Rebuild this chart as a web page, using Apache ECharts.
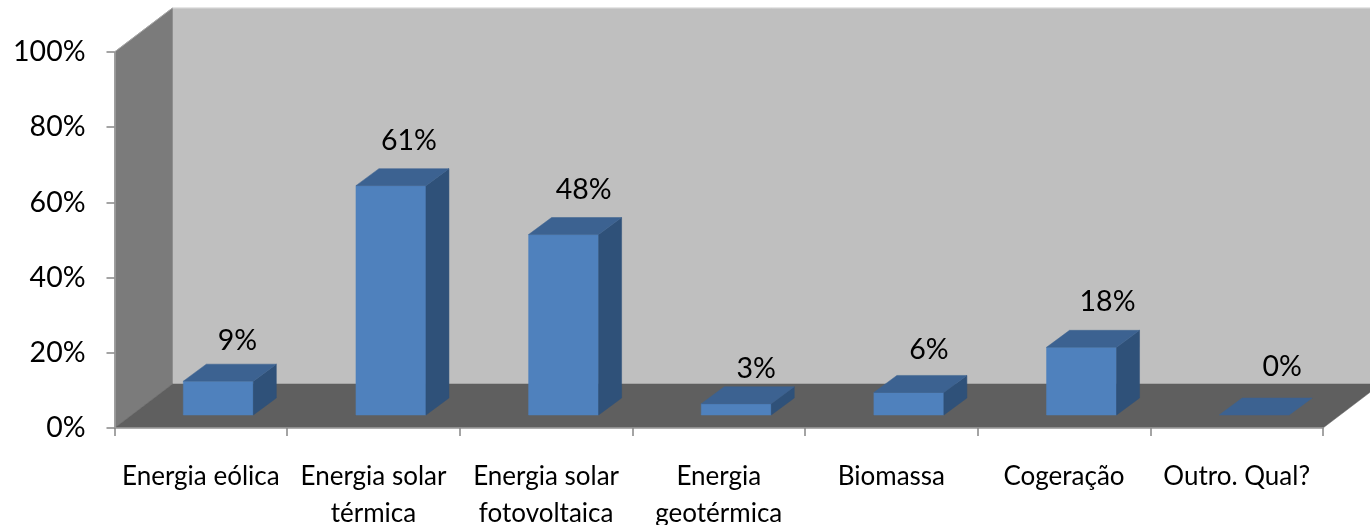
<!DOCTYPE html>
<html>
<head>
<meta charset="utf-8">
<style>html,body{margin:0;padding:0;background:#fff}#c{width:1370px;height:525px}</style>
<script src="https://cdn.jsdelivr.net/npm/echarts@6/dist/echarts.min.js"></script>
</head>
<body>
<div id="c"></div>
<script>
const categories = ['Energia eólica','Energia solar\ntérmica','Energia solar\nfotovoltaica','Energia\ngeotérmica','Biomassa','Cogeração','Outro. Qual?'];
const values = [9, 61, 48, 3, 6, 18, 0];
const yTicks = [0, 20, 40, 60, 80, 100];

const FONT = 'Lato, "Open Sans", sans-serif';
const wallDx = 58, wallDy = -44;     // depth of the chart box
const barDx = 23, barDy = -17;       // depth of each bar
const insetDx = 17.5, insetDy = -13; // bar offset from the front floor edge
const barWidth = 70;
const labelNudge = [[-1, 5], [-2, 0], [0, 0], [0, 10], [0, 2], [6, -1], [8, -3]]; // hand-placed data labels

function poly(points, fill) {
  return { type: 'polygon', shape: { points }, style: { fill, stroke: fill, lineWidth: 0.5 } };
}

function renderBox(params) {
  const g = params.coordSys;
  const L = g.x, R = g.x + g.width, T = g.y, B = g.y + g.height;
  const edge = '#a6a6a6';
  return { type: 'group', children: [
    poly([[L + wallDx, T + wallDy], [R + wallDx, T + wallDy], [R + wallDx, B + wallDy], [L + wallDx, B + wallDy]], '#bfbfbf'),
    poly([[L, B], [L + wallDx, B + wallDy], [L + wallDx, T + wallDy], [L, T]], '#7b7b7b'),
    poly([[L, B], [R, B], [R + wallDx, B + wallDy], [L + wallDx, B + wallDy]], '#5f5f5f'),
    { type: 'line', shape: { x1: L, y1: T, x2: L + wallDx, y2: T + wallDy }, style: { stroke: edge, lineWidth: 1 } },
    { type: 'line', shape: { x1: L + wallDx, y1: T + wallDy, x2: R + wallDx, y2: T + wallDy }, style: { stroke: '#dcdcdc', lineWidth: 1 } }
  ] };
}

function renderBar(params, api) {
  const i = api.value(0);
  const p0 = api.coord([i, 0]);
  const p1 = api.coord([i, api.value(1)]);
  const cx = p0[0] + insetDx, x0 = cx - barWidth / 2, x1 = cx + barWidth / 2;
  const yb = p0[1] + insetDy, yt = p1[1] + insetDy;
  const children = [];
  if (yb - yt > 0.5) {
    children.push(poly([[x0, yb], [x1, yb], [x1, yt], [x0, yt]], '#4f81bd'));
    children.push(poly([[x1, yb], [x1 + barDx, yb + barDy], [x1 + barDx, yt + barDy], [x1, yt]], '#2f5179'));
  }
  children.push(poly([[x0, yt], [x1, yt], [x1 + barDx, yt + barDy], [x0 + barDx, yt + barDy]], '#3c6291'));
  children.push({
    type: 'text', z2: 10,
    style: {
      x: cx + 20 + labelNudge[i][0], y: yt + barDy - 28 + labelNudge[i][1],
      text: api.value(1) + '%', fill: '#000', font: '28.5px ' + FONT,
      align: 'center', verticalAlign: 'middle'
    }
  });
  return { type: 'group', children };
}

const chart = echarts.init(document.getElementById('c'), null, { renderer: 'canvas' });
chart.setOption({
  animation: false,
  backgroundColor: '#fff',
  grid: { left: 114.5, right: 47, top: 52, bottom: 97, containLabel: false, outerBoundsMode: 'none' },
  xAxis: {
    type: 'category', data: categories, boundaryGap: true, z: 5,
    axisLine: { show: true, lineStyle: { color: '#a0a0a0', width: 1.5 } },
    axisTick: { show: true, alignWithLabel: false, length: 8, lineStyle: { color: '#868686', width: 1.5 } },
    axisLabel: { interval: 0, color: '#000', fontFamily: FONT, fontSize: 26, lineHeight: 37, margin: 30 }
  },
  yAxis: {
    type: 'value', min: yTicks[0], max: yTicks[yTicks.length - 1], interval: 20, z: 5,
    axisLine: { show: true, lineStyle: { color: '#a0a0a0', width: 1.5 } },
    axisTick: { show: true, length: 8, lineStyle: { color: '#868686', width: 1.5 } },
    splitLine: { show: false },
    axisLabel: { color: '#000', fontFamily: FONT, fontSize: 28.5, margin: 29, padding: [4, 0, 0, 0], formatter: '{value}%' }
  },
  series: [
    { type: 'custom', name: 'box', coordinateSystem: 'cartesian2d', data: [[0, 0]], renderItem: renderBox, silent: true, z: 1 },
    { type: 'custom', name: 'values', coordinateSystem: 'cartesian2d',
      data: values.map((v, i) => [i, v]), renderItem: renderBar, silent: true, z: 3 }
  ]
});
</script>
</body>
</html>
